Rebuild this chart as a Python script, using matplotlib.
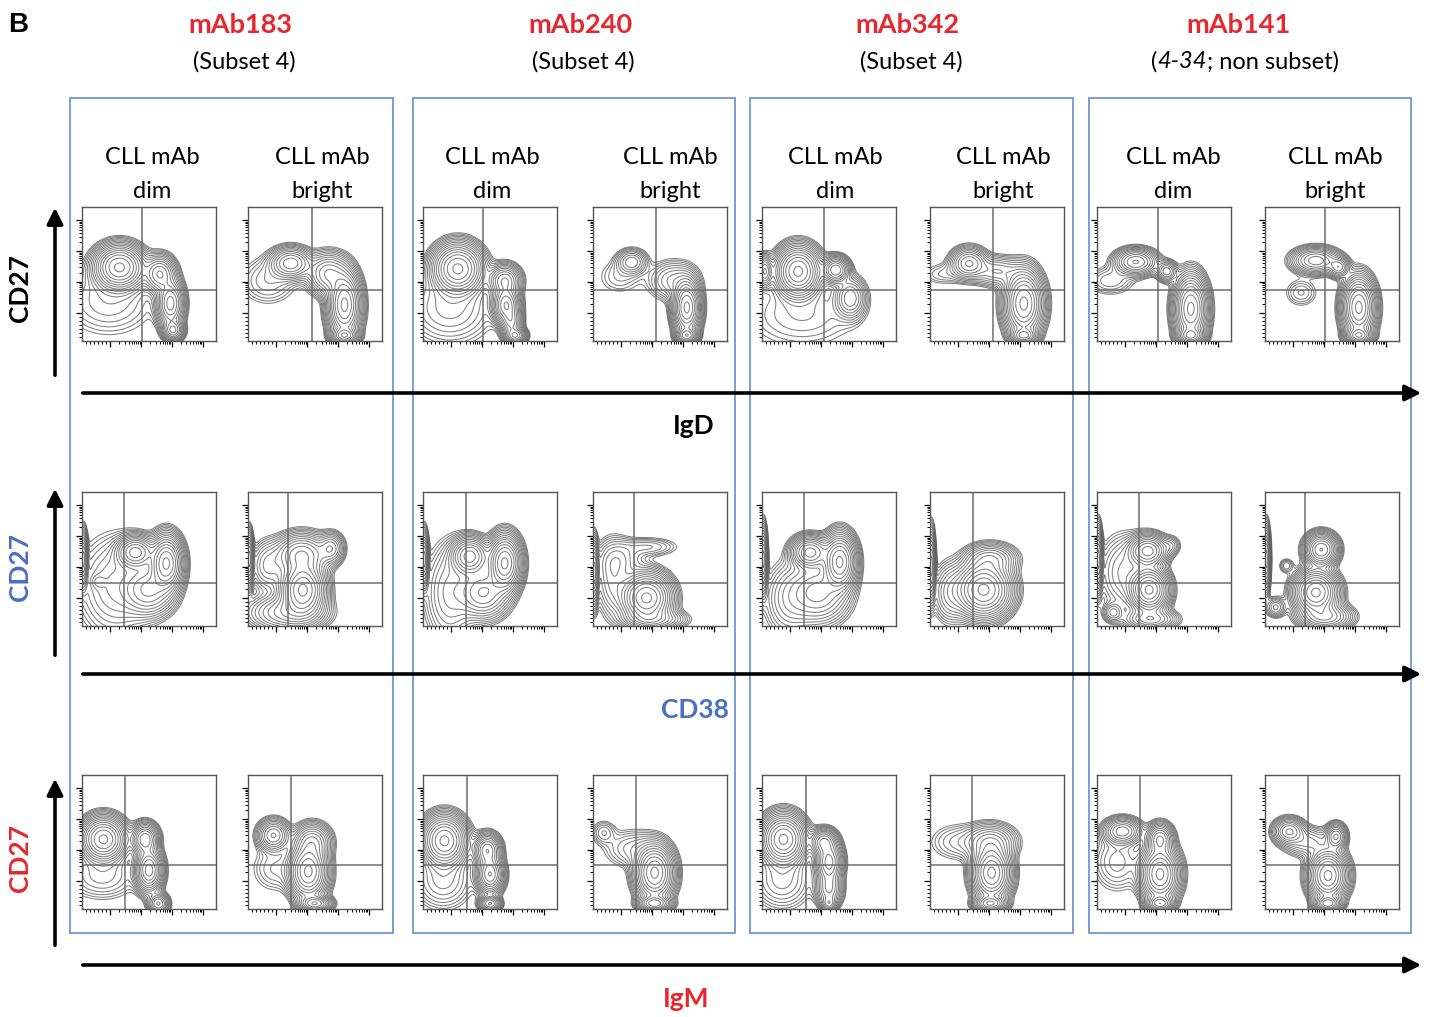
import numpy as np
import matplotlib
matplotlib.use("Agg")
import matplotlib.pyplot as plt
from matplotlib.patches import Rectangle, FancyArrowPatch

plt.rcParams['font.family'] = ['Lato', 'DejaVu Sans']

W, H = 1429, 1017
RED = '#e8262d'
BLUE = '#4a6fc0'
BOX = '#6f97d2'

# column / row headers
antibodies = ['mAb183', 'mAb240', 'mAb342', 'mAb141']
subsets = ['(Subset 4)', '(Subset 4)', '(Subset 4)', None]
panel_kinds = ['dim', 'bright']
row_ylabels = ['CD27', 'CD27', 'CD27']
row_ycolors = ['black', BLUE, RED]
row_xlabels = ['IgD', 'CD38', 'IgM']
row_xcolors = ['black', BLUE, RED]

# quadrant gate positions per row (x, y in axis fraction)
gates = [
    [(0.45, 0.38), (0.48, 0.38), (0.45, 0.38), (0.47, 0.38),
     (0.46, 0.38), (0.47, 0.38), (0.455, 0.38), (0.45, 0.38)],
    [(0.31, 0.32), (0.30, 0.32), (0.32, 0.32), (0.305, 0.32),
     (0.31, 0.32), (0.32, 0.32), (0.31, 0.32), (0.30, 0.32)],
    [(0.32, 0.33), (0.32, 0.33), (0.325, 0.33), (0.32, 0.33),
     (0.33, 0.33), (0.31, 0.33), (0.32, 0.33), (0.32, 0.33)],
]

# populations seen in each panel: (x, y, sd_x, sd_y, weight), axis fraction
igd_pops = [
    [(0.28, 0.55, 0.09, 0.08, 1.0), (0.66, 0.28, 0.05, 0.09, 0.6), (0.68, 0.08, 0.04, 0.04, 0.4),
     (0.58, 0.50, 0.06, 0.07, 0.4), (0.20, 0.30, 0.20, 0.15, 0.05)],
    [(0.32, 0.58, 0.08, 0.06, 0.35), (0.72, 0.27, 0.06, 0.12, 1.0), (0.72, 0.04, 0.05, 0.03, 0.6),
     (0.15, 0.45, 0.12, 0.10, 0.05), (0.60, 0.50, 0.08, 0.08, 0.3)],
    [(0.26, 0.54, 0.09, 0.09, 1.0), (0.62, 0.27, 0.05, 0.07, 0.7), (0.61, 0.45, 0.06, 0.06, 0.4),
     (0.69, 0.04, 0.04, 0.03, 0.5), (0.66, 0.14, 0.04, 0.06, 0.4), (0.20, 0.25, 0.18, 0.15, 0.08)],
    [(0.29, 0.59, 0.06, 0.05, 0.15), (0.70, 0.25, 0.05, 0.10, 1.0), (0.70, 0.04, 0.04, 0.03, 0.6),
     (0.60, 0.45, 0.10, 0.08, 0.1), (0.20, 0.48, 0.10, 0.08, 0.03)],
    [(0.27, 0.52, 0.08, 0.09, 1.0), (0.55, 0.53, 0.05, 0.05, 0.5), (0.02, 0.52, 0.03, 0.06, 0.3),
     (0.66, 0.32, 0.06, 0.08, 0.2), (0.30, 0.20, 0.25, 0.15, 0.04)],
    [(0.29, 0.58, 0.07, 0.06, 0.3), (0.70, 0.28, 0.07, 0.12, 1.0), (0.70, 0.04, 0.05, 0.03, 0.5),
     (0.50, 0.52, 0.10, 0.06, 0.12), (0.10, 0.50, 0.10, 0.05, 0.03)],
    [(0.29, 0.59, 0.08, 0.05, 0.4), (0.52, 0.52, 0.04, 0.04, 0.2), (0.70, 0.24, 0.06, 0.12, 1.0),
     (0.70, 0.04, 0.05, 0.03, 0.6), (0.10, 0.45, 0.10, 0.06, 0.05)],
    [(0.38, 0.60, 0.09, 0.05, 0.35), (0.55, 0.55, 0.04, 0.04, 0.25), (0.70, 0.25, 0.06, 0.11, 1.0),
     (0.70, 0.04, 0.05, 0.03, 0.6), (0.27, 0.36, 0.07, 0.06, 0.04)],
]
cd38_pops = [
    [(0.01, 0.50, 0.015, 0.10, 0.6), (0.63, 0.47, 0.06, 0.10, 1.0), (0.40, 0.55, 0.07, 0.06, 0.6),
     (0.50, 0.27, 0.10, 0.10, 0.3), (0.25, 0.30, 0.15, 0.20, 0.1), (0.12, 0.33, 0.03, 0.03, 0.05)],
    [(0.01, 0.50, 0.015, 0.10, 0.6), (0.41, 0.27, 0.08, 0.10, 1.0), (0.40, 0.53, 0.10, 0.08, 0.4),
     (0.62, 0.58, 0.05, 0.06, 0.2), (0.30, 0.10, 0.15, 0.07, 0.2), (0.15, 0.45, 0.07, 0.10, 0.1)],
    [(0.01, 0.50, 0.015, 0.10, 0.6), (0.61, 0.47, 0.06, 0.10, 1.0), (0.35, 0.52, 0.07, 0.07, 0.6),
     (0.45, 0.25, 0.10, 0.10, 0.3), (0.20, 0.25, 0.10, 0.20, 0.1)],
    [(0.01, 0.40, 0.015, 0.12, 0.6), (0.40, 0.21, 0.09, 0.09, 1.0), (0.42, 0.59, 0.12, 0.04, 0.05),
     (0.20, 0.50, 0.10, 0.08, 0.07), (0.15, 0.35, 0.07, 0.15, 0.1), (0.45, 0.05, 0.12, 0.04, 0.2)],
    [(0.01, 0.50, 0.015, 0.12, 0.6), (0.58, 0.48, 0.06, 0.10, 1.0), (0.36, 0.55, 0.07, 0.06, 0.6),
     (0.42, 0.25, 0.12, 0.12, 0.25), (0.20, 0.20, 0.10, 0.15, 0.08)],
    [(0.01, 0.45, 0.015, 0.13, 0.6), (0.40, 0.27, 0.10, 0.10, 1.0), (0.45, 0.50, 0.10, 0.06, 0.2),
     (0.15, 0.25, 0.07, 0.12, 0.1)],
    [(0.01, 0.50, 0.015, 0.12, 0.6), (0.38, 0.56, 0.07, 0.06, 0.6), (0.39, 0.27, 0.07, 0.08, 1.0),
     (0.55, 0.60, 0.04, 0.04, 0.06), (0.12, 0.10, 0.04, 0.04, 0.1), (0.20, 0.40, 0.10, 0.15, 0.1),
     (0.40, 0.05, 0.10, 0.04, 0.2)],
    [(0.01, 0.50, 0.015, 0.12, 0.6), (0.42, 0.57, 0.06, 0.06, 0.7), (0.38, 0.25, 0.08, 0.08, 1.0),
     (0.16, 0.45, 0.03, 0.03, 0.05), (0.08, 0.14, 0.04, 0.04, 0.1), (0.45, 0.07, 0.10, 0.05, 0.3)],
]
igm_pops = [
    [(0.16, 0.52, 0.08, 0.08, 1.0), (0.50, 0.29, 0.05, 0.08, 0.8), (0.47, 0.52, 0.05, 0.06, 0.5),
     (0.57, 0.04, 0.04, 0.04, 0.3), (0.15, 0.25, 0.15, 0.10, 0.06)],
    [(0.19, 0.55, 0.06, 0.06, 0.3), (0.45, 0.28, 0.07, 0.10, 1.0), (0.48, 0.50, 0.07, 0.07, 0.3),
     (0.50, 0.04, 0.06, 0.03, 0.5), (0.20, 0.30, 0.10, 0.10, 0.04)],
    [(0.16, 0.51, 0.08, 0.09, 1.0), (0.50, 0.26, 0.05, 0.07, 0.7), (0.48, 0.44, 0.05, 0.06, 0.5),
     (0.50, 0.04, 0.04, 0.03, 0.4), (0.15, 0.22, 0.12, 0.12, 0.08)],
    [(0.08, 0.57, 0.05, 0.05, 0.05), (0.46, 0.27, 0.07, 0.10, 1.0), (0.46, 0.04, 0.06, 0.03, 0.6),
     (0.30, 0.45, 0.12, 0.08, 0.06)],
    [(0.16, 0.52, 0.08, 0.09, 1.0), (0.50, 0.35, 0.05, 0.08, 0.6), (0.46, 0.50, 0.05, 0.05, 0.4),
     (0.50, 0.04, 0.03, 0.03, 0.2), (0.50, 0.15, 0.05, 0.07, 0.3), (0.15, 0.22, 0.12, 0.12, 0.08)],
    [(0.46, 0.27, 0.07, 0.10, 1.0), (0.45, 0.04, 0.06, 0.03, 0.5), (0.20, 0.50, 0.12, 0.08, 0.04),
     (0.45, 0.50, 0.10, 0.07, 0.2)],
    [(0.19, 0.58, 0.07, 0.05, 0.35), (0.47, 0.26, 0.07, 0.10, 1.0), (0.47, 0.52, 0.05, 0.06, 0.4),
     (0.47, 0.04, 0.05, 0.03, 0.6), (0.15, 0.35, 0.10, 0.12, 0.06)],
    [(0.18, 0.58, 0.06, 0.05, 0.3), (0.53, 0.54, 0.04, 0.05, 0.3), (0.47, 0.25, 0.07, 0.09, 1.0),
     (0.32, 0.50, 0.10, 0.06, 0.1), (0.47, 0.04, 0.05, 0.03, 0.6)],
]
row_pops = [igd_pops, cd38_pops, igm_pops]

# layout in pixels
col_left = [82, 248, 423, 593, 762, 930, 1097, 1265]
row_top = [207, 492, 775]
pw, ph = 134, 134
box_x = [(70, 393), (413, 735), (750, 1073), (1089, 1411)]
box_y = (98, 933)


def fx(px):
    return px / W


def fy(py):
    return 1 - py / H


fig = plt.figure(figsize=(W / 100, H / 100), dpi=100)

# log-like tick marks (decades plus minor)
dec = [0.0, 0.21, 0.44, 0.67, 0.90]
major = dec[1:]
minor = [0.03, 0.06, 0.09, 0.12, 0.15, 0.18]
for a, b in zip(dec[1:-1], dec[2:]):
    minor += [a + np.log10(k) * (b - a) for k in range(2, 10)]

gx, gy = np.meshgrid(np.linspace(0, 1, 220), np.linspace(0, 1, 220))

for r in range(3):
    for c in range(8):
        ax = fig.add_axes([fx(col_left[c]), fy(row_top[r] + ph), pw / W, ph / H])
        z = np.zeros_like(gx)
        for (mx, my, sx, sy, w) in row_pops[r][c]:
            z += w * np.exp(-((gx - mx) ** 2 / (2 * sx ** 2) + (gy - my) ** 2 / (2 * sy ** 2)))
        levels = np.geomspace(0.012, 0.92, 16) * z.max()
        ax.contour(gx, gy, z, levels=levels, colors='#626262', linewidths=0.75, alpha=0.8)
        vx, hy = gates[r][c]
        ax.axvline(vx, color='#6e6e6e', lw=1.1)
        ax.axhline(hy, color='#6e6e6e', lw=1.1)
        ax.set_xlim(0, 1)
        ax.set_ylim(0, 1)
        ax.set_xticks(major)
        ax.set_yticks(major)
        ax.set_xticks(minor, minor=True)
        ax.set_yticks(minor, minor=True)
        ax.tick_params(which='major', direction='out', length=4, width=0.9, color='black',
                       labelbottom=False, labelleft=False)
        ax.tick_params(which='minor', direction='out', length=2.5, width=0.7, color='black')
        for s in ax.spines.values():
            s.set_color('#555555')
            s.set_linewidth(1.0)

# blue group boxes
for (x0, x1) in box_x:
    fig.add_artist(Rectangle((fx(x0), fy(box_y[1])), (x1 - x0) / W, (box_y[1] - box_y[0]) / H,
                             transform=fig.transFigure, fill=False, edgecolor=BOX, lw=1.3))

# headers
fig.text(fx(8), fy(25), 'B', fontsize=20, fontweight='bold', family='Liberation Sans',
         ha='left', va='center')
title_x = [240, 580, 907, 1239]
sub_x = [244, 583, 911, 1245]
for i, name in enumerate(antibodies):
    fig.text(fx(title_x[i]), fy(25), name, color=RED, fontsize=19.5, fontweight='bold',
             ha='center', va='center')
    if subsets[i]:
        fig.text(fx(sub_x[i]), fy(62), subsets[i], fontsize=17, ha='center', va='center')

# "(4-34; non subset)" with italic gene name
renderer = fig.canvas.get_renderer()
parts = [('(', 'normal'), ('4-34', 'italic'), ('; non subset)', 'normal')]
txts = [fig.text(0, fy(62), s, fontsize=17, style=st, ha='left', va='center') for s, st in parts]
widths = [t.get_window_extent(renderer).width for t in txts]
x = sub_x[3] - sum(widths) / 2
for t, wd in zip(txts, widths):
    t.set_x(x / W)
    x += wd

label_x = [152, 322, 492, 670, 835, 1003, 1173, 1335]
for c in range(8):
    fig.text(fx(label_x[c]), fy(157), 'CLL mAb', fontsize=17, ha='center', va='center')
    fig.text(fx(label_x[c]), fy(191), panel_kinds[c % 2], fontsize=17, ha='center', va='center')

# axis arrows and labels
vert_arrows = [(378, 205), (658, 486), (948, 776)]
horiz_y = [393, 674, 965]
ylab_y = [288, 567, 858]
xlab_pos = [(694, 426), (695, 710), (686, 999)]
for r in range(3):
    y0, y1 = vert_arrows[r]
    fig.add_artist(FancyArrowPatch(
        (fx(55), fy(y0)), (fx(55), fy(y1)), transform=fig.transFigure,
        arrowstyle='-|>', mutation_scale=24, lw=2.6, color='black'))
    fig.add_artist(FancyArrowPatch(
        (fx(80), fy(horiz_y[r])), (fx(1424), fy(horiz_y[r])), transform=fig.transFigure,
        arrowstyle='-|>', mutation_scale=24, lw=2.6, color='black'))
    fig.text(fx(20), fy(ylab_y[r]), row_ylabels[r], color=row_ycolors[r], fontsize=19,
             fontweight='bold', rotation=90, ha='center', va='center')
    fig.text(fx(xlab_pos[r][0]), fy(xlab_pos[r][1]), row_xlabels[r], color=row_xcolors[r],
             fontsize=19, fontweight='bold', ha='center', va='center')

fig.savefig('out.png', dpi=100)
